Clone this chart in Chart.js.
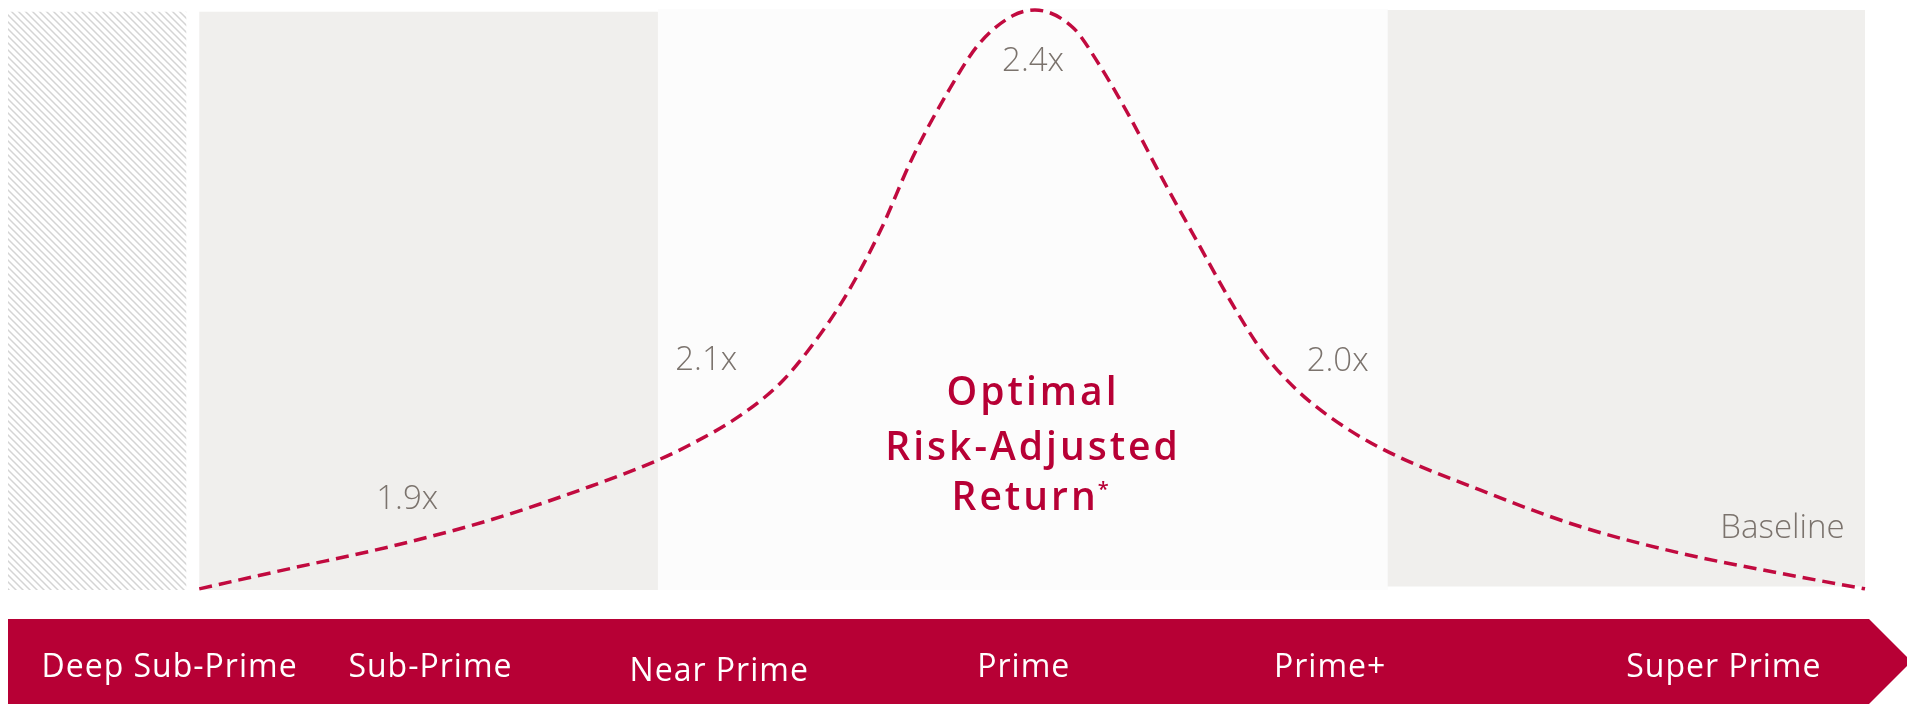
<!DOCTYPE html>
<html lang="en">
<head>
    <meta charset="UTF-8">
    <title>Risk-Adjusted Return by Credit Tier</title>
    <script src="https://cdn.jsdelivr.net/npm/chart.js"></script>
    <style>
        body {
            margin: 0;
            padding: 0;
            background: #ffffff;
        }
        canvas {
            display: block;
        }
    </style>
</head>
<body>
    <canvas id="returnChart" width="1907" height="704"></canvas>

    <script>
        // Return curve across the credit spectrum (x: 0-100 along the tiers, y: 0-100 relative return)
        const curveX = [10.3, 15.2, 20.6, 26.0, 31.3, 35.0, 36.7, 39.3, 41.6, 43.4, 45.2, 47.0, 48.7, 50.6, 52.3, 54.1, 55.3,
                        57.4, 58.6, 60.4, 62.2, 64.0, 65.8, 67.6, 69.4, 71.2, 73.9, 79.3, 84.7, 90.0, 95.4, 100];
        const curveY = [0.2, 3.7, 7.5, 12.1, 17.8, 22.4, 25.0, 29.8, 35.7, 42.6, 51.2, 62.1, 74.5, 85.8, 94.2, 99.0, 100,
                        96.8, 91.4, 81.6, 70.7, 60.3, 50.0, 40.9, 34.5, 29.8, 24.5, 17.2, 10.9, 6.4, 2.9, 0.2];

        // Credit tiers along the bottom band
        const tiers = ['Deep Sub-Prime', 'Sub-Prime', 'Near Prime', 'Prime', 'Prime+', 'Super Prime'];
        const tierPos = [8.7, 22.75, 38.3, 54.7, 71.2, 92.4];

        // Return multiples per zone
        const multiples = ['1.9x', '2.1x', '2.4x', '2.0x', 'Baseline'];
        const multiplePos = [[21.5, 14.0], [37.6, 37.9], [55.2, 89.5], [71.6, 37.8], [98.9, 9.0]];

        // Background zones
        const zoneStart = [0, 10.3, 35.0, 74.3];
        const zoneEnd = [9.6, 35.0, 74.3, 100];
        const zoneTop = [99.7, 99.7, 100.2, 100];
        const zoneBottom = [0, 0, 0, 0.6];

        const RED = '#b70035';
        const LINE_RED = '#c10a3f';
        const GRAY_TEXT = '#7b736d';

        function hatchPattern(ctx) {
            const s = 7;
            const tile = document.createElement('canvas');
            tile.width = s;
            tile.height = s;
            const t = tile.getContext('2d');
            t.fillStyle = '#ffffff';
            t.fillRect(0, 0, s, s);
            t.strokeStyle = '#d4d4d4';
            t.lineWidth = 1.5;
            t.beginPath();
            t.moveTo(-1, -1); t.lineTo(s + 1, s + 1);
            t.moveTo(-1, s - 1); t.lineTo(1, s + 1);
            t.moveTo(s - 1, -1); t.lineTo(s + 1, 1);
            t.stroke();
            return ctx.createPattern(tile, 'repeat');
        }

        const zonesPlugin = {
            id: 'zones',
            beforeDatasetsDraw(chart) {
                const { ctx, scales: { x, y } } = chart;
                const fills = [hatchPattern(ctx), '#f0efed', '#fcfcfc', '#f0efed'];
                ctx.save();
                zoneStart.forEach((x0, i) => {
                    const left = x.getPixelForValue(x0);
                    const right = x.getPixelForValue(zoneEnd[i]);
                    const top = y.getPixelForValue(zoneTop[i]);
                    const bottom = y.getPixelForValue(zoneBottom[i]);
                    ctx.fillStyle = fills[i];
                    ctx.fillRect(left, top, right - left, bottom - top);
                });
                ctx.restore();
            }
        };

        const labelsPlugin = {
            id: 'labels',
            afterDraw(chart) {
                const { ctx, chartArea, scales: { x, y } } = chart;
                ctx.save();

                // Multiples
                ctx.font = '300 33px "Open Sans"';
                ctx.fillStyle = GRAY_TEXT;
                ctx.textBaseline = 'alphabetic';
                multiples.forEach((txt, i) => {
                    ctx.textAlign = txt === 'Baseline' ? 'right' : 'center';
                    ctx.fillText(txt, x.getPixelForValue(multiplePos[i][0]), y.getPixelForValue(multiplePos[i][1]));
                });

                // Callout in the middle zone
                const cx = x.getPixelForValue(55.2);
                ctx.fillStyle = RED;
                ctx.font = '600 39px "Open Sans"';
                ctx.letterSpacing = '3px';
                ctx.textAlign = 'center';
                ctx.fillText('Optimal', cx, y.getPixelForValue(31.9));
                ctx.fillText('Risk-Adjusted', cx, y.getPixelForValue(22.4));
                const retW = ctx.measureText('Return').width;
                const retX = cx - 8;
                ctx.fillText('Return', retX, y.getPixelForValue(13.8));
                ctx.font = '600 20px "Open Sans"';
                ctx.letterSpacing = '0px';
                ctx.textAlign = 'left';
                ctx.fillText('*', retX + retW / 2 - 1, y.getPixelForValue(13.8) - 14);

                // Tier band with arrow head
                const bandTop = chartArea.bottom + 29;
                const bandBottom = chart.height;
                const bandLeft = chartArea.left;
                const bandRight = chartArea.right + 4;
                const half = (bandBottom - bandTop) / 2;
                ctx.fillStyle = RED;
                ctx.beginPath();
                ctx.moveTo(bandLeft, bandTop);
                ctx.lineTo(bandRight, bandTop);
                ctx.lineTo(bandRight + half, bandTop + half);
                ctx.lineTo(bandRight, bandBottom);
                ctx.lineTo(bandLeft, bandBottom);
                ctx.closePath();
                ctx.fill();

                ctx.fillStyle = '#ffffff';
                ctx.font = '400 32px "Open Sans"';
                ctx.letterSpacing = '1px';
                ctx.textAlign = 'center';
                tiers.forEach((t, i) => {
                    const dy = t === 'Near Prime' ? 4 : 0;
                    ctx.fillText(t, x.getPixelForValue(tierPos[i]), bandTop + 58 + dy);
                });
                ctx.restore();
            }
        };

        const ctx = document.getElementById('returnChart').getContext('2d');
        new Chart(ctx, {
            type: 'line',
            data: {
                datasets: [{
                    data: curveX.map((v, i) => ({ x: v, y: curveY[i] })),
                    borderColor: LINE_RED,
                    borderWidth: 3.5,
                    borderDash: [13, 7],
                    pointRadius: 0,
                    fill: false,
                    cubicInterpolationMode: 'monotone',
                    clip: false
                }]
            },
            options: {
                responsive: false,
                animation: false,
                devicePixelRatio: 1,
                layout: {
                    padding: { left: 8, right: 42, top: 10, bottom: 114 }
                },
                plugins: {
                    legend: { display: false },
                    tooltip: { enabled: false }
                },
                scales: {
                    x: { type: 'linear', min: 0, max: 100, display: false },
                    y: { min: 0, max: 100, display: false }
                }
            },
            plugins: [zonesPlugin, labelsPlugin]
        });
    </script>
</body>
</html>
